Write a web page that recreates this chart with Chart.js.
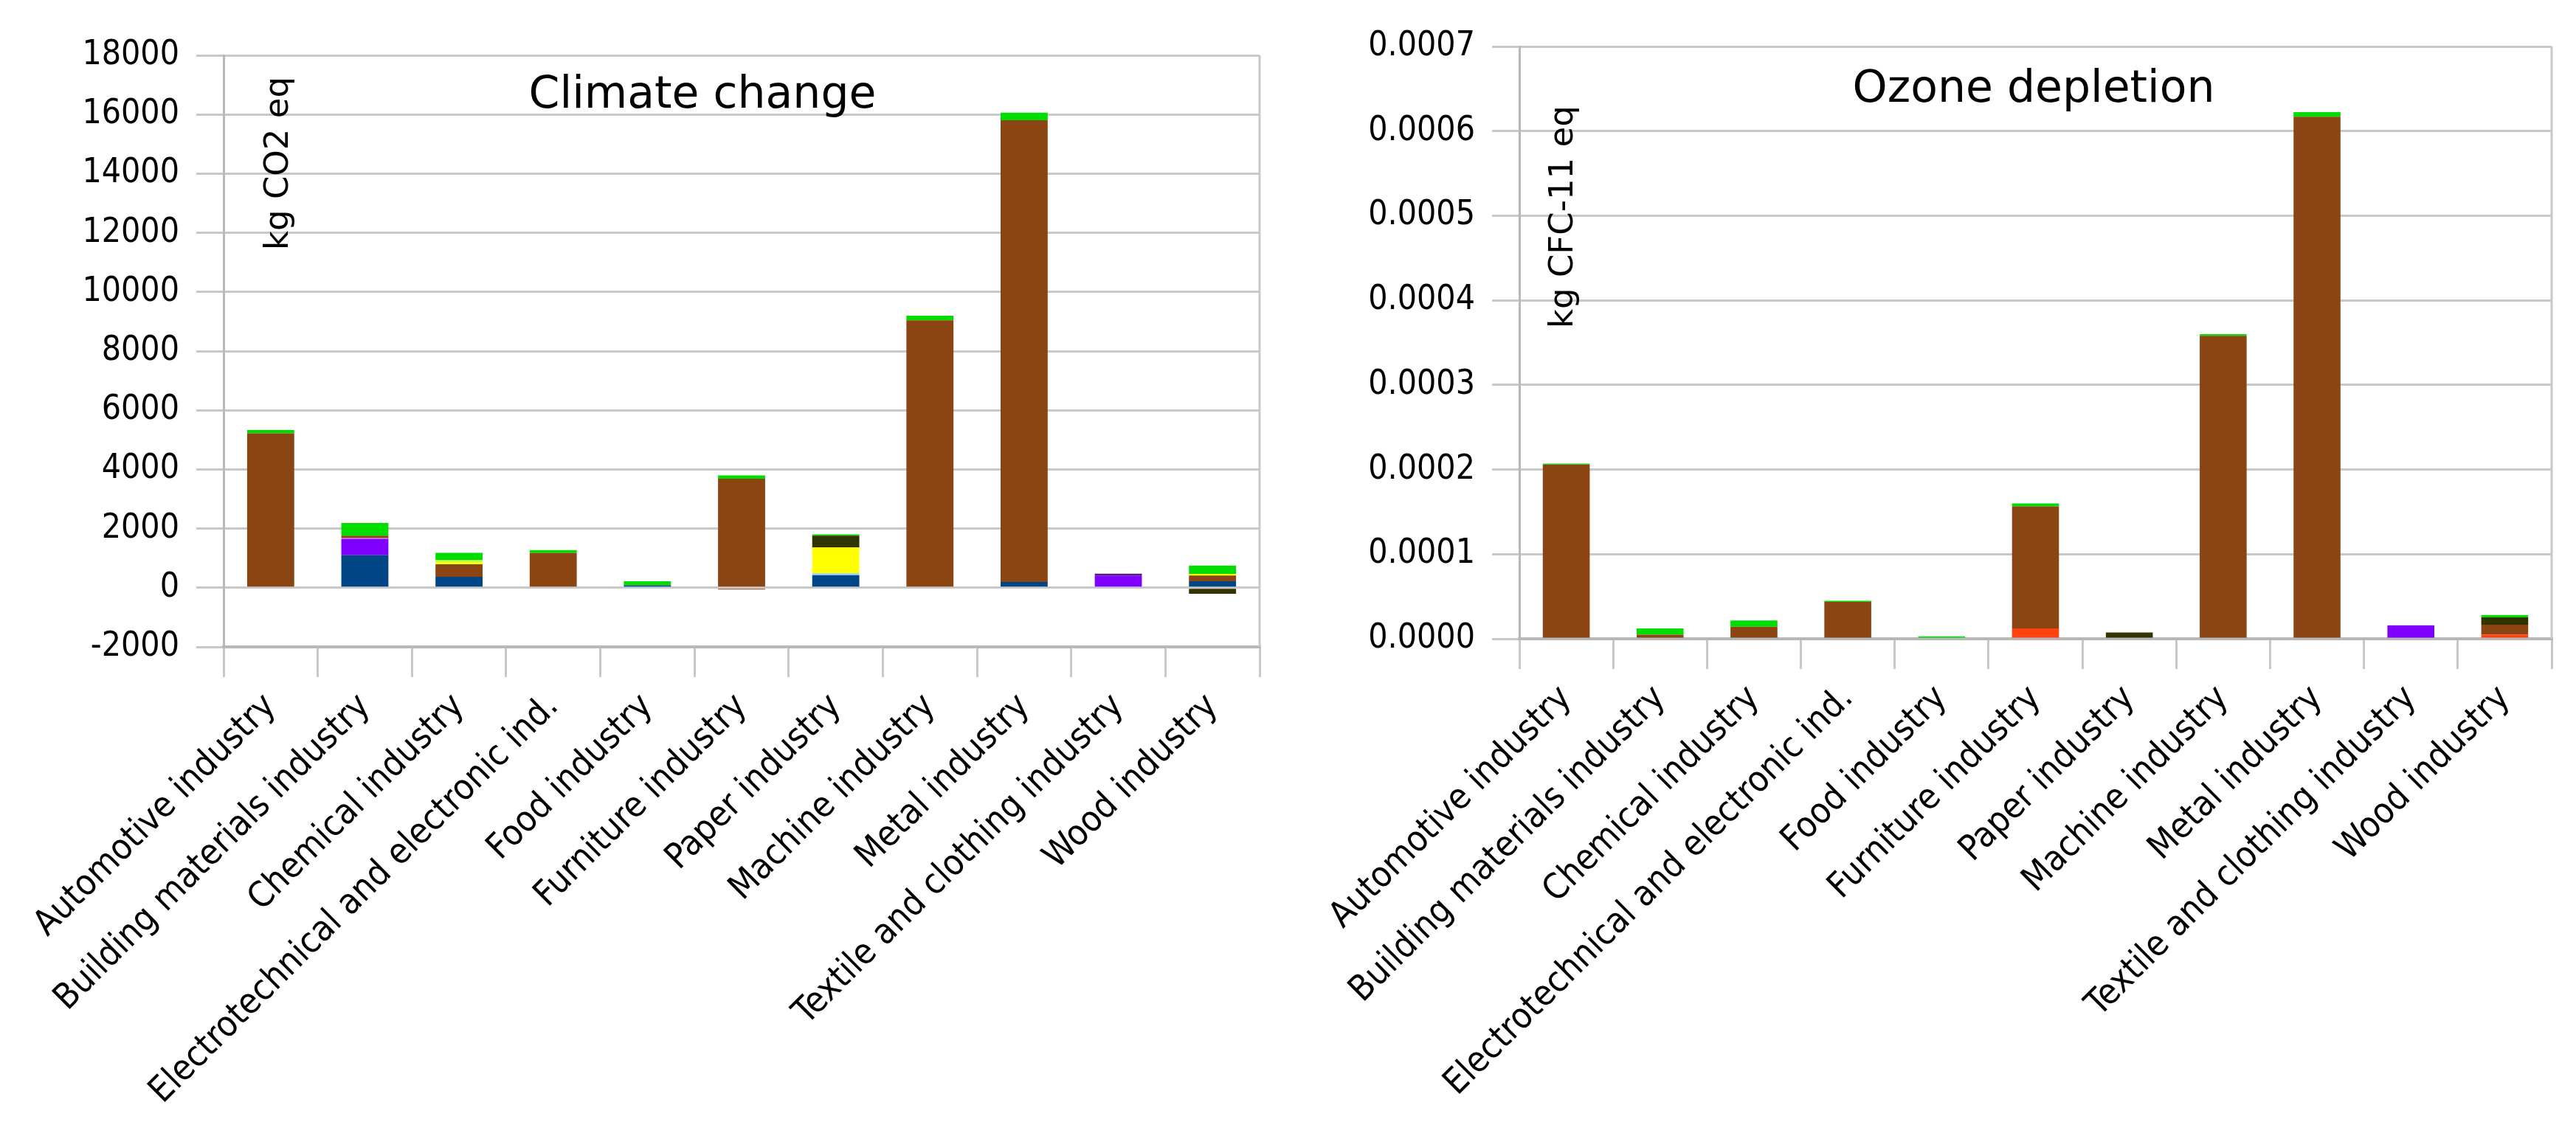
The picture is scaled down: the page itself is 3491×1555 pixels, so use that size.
<!DOCTYPE html>
<html>
<head>
<meta charset="utf-8">
<script src="https://cdn.jsdelivr.net/npm/chart.js@4"></script>
<style>
  html, body { margin: 0; padding: 0; background: #fff; }
  body { width: 3491px; height: 1555px; position: relative; overflow: hidden; }
  canvas { position: absolute; top: 0; }
  #climate { left: 0; }
  #ozone { left: 1745px; }
</style>
</head>
<body>
<canvas id="climate" width="1745" height="1555"></canvas>
<canvas id="ozone" width="1746" height="1555"></canvas>
<script>
const categories = [
    "Automotive industry",
    "Building materials industry",
    "Chemical industry",
    "Electrotechnical and electronic ind.",
    "Food industry",
    "Furniture industry",
    "Paper industry",
    "Machine industry",
    "Metal industry",
    "Textile and clothing industry",
    "Wood industry"
];

// stack order bottom -> top, one colour per contribution
const seriesNames = ["blue", "orange", "lightblue", "purple", "violet", "darkpurple", "brown", "brown2", "yellow", "darkolive", "lime", "green"];
const seriesColors = {
    blue: "#004586",
    orange: "#ff420e",
    lightblue: "#83caff",
    purple: "#8000ff",
    violet: "#c060e0",
    darkpurple: "#4b1f6f",
    brown: "#8b4513",
    brown2: "#8b4513",
    yellow: "#ffff00",
    darkolive: "#333300",
    lime: "#ccff33",
    green: "#00dd00"
};

// Climate change, kg CO2 eq
const climate_blue       = [0, 1100, 370, 0, 80, 0, 420, 0, 195, 0, 220];
const climate_orange     = [0, 0, 0, 0, 0, 0, 0, 0, 0, 0, 0];
const climate_lightblue  = [0, 0, 0, 0, 0, 0, 60, 0, 0, 0, 0];
const climate_purple     = [0, 540, 0, 0, 0, 0, 0, 0, 0, 410, 0];
const climate_violet     = [0, 40, 0, 0, 0, 0, 0, 0, 0, 0, 0];
const climate_darkpurple = [0, 0, 0, 0, 0, 0, 0, 0, 0, 65, 0];
const climate_brown      = [5220, 80, 420, 1180, 0, 3685, 0, 9040, 15610, 0, 190];
const climate_brown2     = [0, 0, 0, 0, 0, -60, 0, 0, 0, 0, 0];
const climate_yellow     = [0, 0, 60, 0, 0, 0, 880, 0, 0, 0, 58];
const climate_darkolive  = [0, 0, 0, 0, 0, 0, 400, 0, 0, 0, -207];
const climate_lime       = [0, 0, 80, 0, 0, 0, 0, 0, 0, 0, 0];
const climate_green      = [110, 430, 250, 90, 140, 115, 40, 155, 257, 0, 280];

// Ozone depletion, kg CFC-11 eq
const ozone_blue       = [0, 0, 0, 0, 0, 0, 0, 0, 0, 0, 0];
const ozone_orange     = [0, 0, 0, 0, 0, 0.0000122, 0, 0, 0, 0, 0.0000049];
const ozone_lightblue  = [0, 0, 0, 0, 0, 0, 0, 0, 0, 0, 0];
const ozone_purple     = [0, 0, 0, 0, 0, 0, 0, 0, 0, 0.000016, 0];
const ozone_violet     = [0, 0, 0, 0, 0, 0, 0, 0, 0, 0, 0];
const ozone_darkpurple = [0, 0, 0, 0, 0, 0, 0, 0, 0, 0, 0];
const ozone_brown      = [0.000206, 0.0000049, 0.0000142, 0.0000435, 0, 0.0001443, 0, 0.000358, 0.000617, 0, 0.0000116];
const ozone_brown2     = [0, 0, 0, 0, 0, 0, 0, 0, 0, 0, 0];
const ozone_yellow     = [0, 0, 0, 0, 0, 0, 0, 0, 0, 0, 0];
const ozone_darkolive  = [0, 0, 0, 0, 0, 0, 0.0000075, 0, 0, 0, 0.0000087];
const ozone_lime       = [0, 0, 0, 0, 0, 0, 0, 0, 0, 0, 0];
const ozone_green      = [0.000001, 0.0000073, 0.0000073, 0.0000015, 0.0000029, 0.0000035, 0, 0.000002, 0.0000055, 0, 0.0000029];

const climateSeries = [climate_blue, climate_orange, climate_lightblue, climate_purple, climate_violet, climate_darkpurple,
    climate_brown, climate_brown2, climate_yellow, climate_darkolive, climate_lime, climate_green];
const ozoneSeries = [ozone_blue, ozone_orange, ozone_lightblue, ozone_purple, ozone_violet, ozone_darkpurple,
    ozone_brown, ozone_brown2, ozone_yellow, ozone_darkolive, ozone_lime, ozone_green];

const climateTicks = { min: -2000, max: 18000, step: 2000 };
const ozoneTicks = { min: 0, max: 0.0007, step: 0.0001 };

const gridColor = "#c8c8c8";
const tickFont = "'DejaVu Sans Condensed', 'DejaVu Sans', sans-serif";
const textFont = "'DejaVu Sans', sans-serif";

// title and unit drawn inside the plot area, plus the right border
const overlay = {
    id: "overlay",
    afterDraw(chart, args, opts) {
        const ctx = chart.ctx;
        const ca = chart.chartArea;
        ctx.save();
        ctx.strokeStyle = gridColor;
        ctx.lineWidth = 3;
        ctx.beginPath();
        ctx.moveTo(ca.right, ca.top);
        ctx.lineTo(ca.right, ca.bottom);
        ctx.stroke();

        ctx.fillStyle = "#000";
        ctx.font = "60px " + textFont;
        ctx.textAlign = "center";
        ctx.textBaseline = "alphabetic";
        ctx.fillText(opts.title, opts.titleX, opts.titleY);

        ctx.font = "45px " + textFont;
        ctx.translate(ca.left + opts.unitDx, opts.unitY);
        ctx.rotate(-Math.PI / 2);
        ctx.textAlign = "left";
        ctx.fillText(opts.unit, 0, 0);
        ctx.restore();
    }
};

const makeChart = (id, series, ticks, fmt, box) => {
    const ctx = document.getElementById(id).getContext("2d");
    return new Chart(ctx, {
        type: "bar",
        data: {
            labels: categories,
            datasets: seriesNames.map((name, i) => ({
                label: name,
                data: series[i],
                backgroundColor: seriesColors[name],
                borderWidth: 0,
                categoryPercentage: 1.0,
                barPercentage: 0.5
            }))
        },
        options: {
            responsive: false,
            animation: false,
            devicePixelRatio: 1,
            layout: { padding: { top: box.top, right: box.right, bottom: 0, left: 0 } },
            plugins: {
                legend: { display: false },
                tooltip: { enabled: false },
                overlay: box.overlay
            },
            scales: {
                x: {
                    stacked: true,
                    grid: {
                        offset: true,
                        drawOnChartArea: false,
                        drawTicks: true,
                        tickLength: 41,
                        color: gridColor,
                        lineWidth: 3
                    },
                    border: { display: true, color: "#b8b8b8", width: 4 },
                    ticks: {
                        autoSkip: false,
                        minRotation: 45,
                        maxRotation: 45,
                        padding: 12,
                        color: "#000",
                        font: { family: tickFont, size: 48 }
                    },
                    afterFit: (scale) => { scale.height = box.xHeight; }
                },
                y: {
                    stacked: true,
                    min: ticks.min,
                    max: ticks.max,
                    grid: {
                        color: gridColor,
                        lineWidth: 3,
                        tickLength: 37
                    },
                    border: { display: true, color: "#b8b8b8", width: 3 },
                    ticks: {
                        stepSize: ticks.step,
                        padding: 23,
                        color: "#000",
                        font: { family: tickFont, size: 46 },
                        callback: fmt
                    },
                    afterFit: (scale) => { scale.width = box.yWidth; }
                }
            }
        },
        plugins: [overlay]
    });
};

makeChart("climate", climateSeries, climateTicks, (v) => String(Math.round(v)), {
    top: 75, right: 38, xHeight: 678, yWidth: 303,
    overlay: { title: "Climate change", titleX: 952, titleY: 146, unit: "kg CO2 eq", unitDx: 87, unitY: 339 }
});

makeChart("ozone", ozoneSeries, ozoneTicks, (v) => v.toFixed(4), {
    top: 63, right: 33, xHeight: 689, yWidth: 314,
    overlay: { title: "Ozone depletion", titleX: 1011, titleY: 138, unit: "kg CFC-11 eq", unitDx: 72, unitY: 445 }
});
</script>
</body>
</html>
